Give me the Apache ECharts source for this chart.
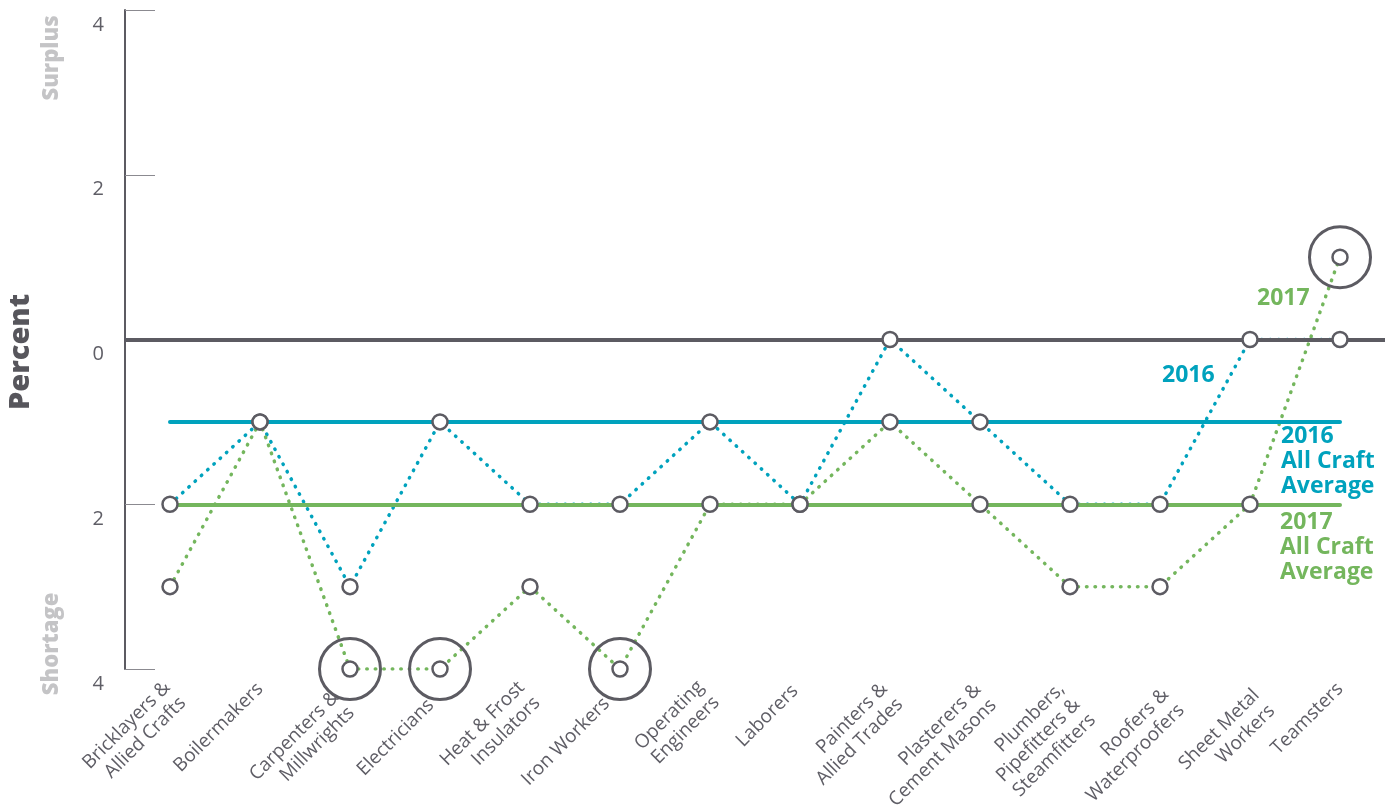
<!DOCTYPE html>
<html>
<head>
<meta charset="utf-8">
<script src="https://cdn.jsdelivr.net/npm/echarts@6/dist/echarts.min.js"></script>
<style>
  html, body { margin: 0; padding: 0; background: #ffffff; }
  #chart { width: 1395px; height: 806px; }
</style>
</head>
<body>
<div id="chart"></div>
<script>
// Craft categories (line breaks are part of the axis labels)
const categories = [
  'Bricklayers &\nAllied Crafts', 'Boilermakers', 'Carpenters &\nMillwrights', 'Electricians',
  'Heat & Frost\nInsulators', 'Iron Workers', 'Operating\nEngineers', 'Laborers',
  'Painters &\nAllied Trades', 'Plasterers &\nCement Masons', 'Plumbers,\nPipefitters &\nSteamfitters',
  'Roofers &\nWaterproofers', 'Sheet Metal\nWorkers', 'Teamsters'
];

// Surplus (+) / shortage (-) in percent
const values2016 = [-2, -1, -3, -1, -2, -2, -1, -2, 0, -1, -2, -2, 0, 0];
const values2017 = [-3, -1, -4, -4, -3, -4, -2, -2, -1, -2, -3, -3, -2, 1];

const average2016 = -1;
const average2017 = -2;

// Crafts called out with a ring (2017 values)
const highlighted = ['Carpenters &\nMillwrights', 'Electricians', 'Iron Workers', 'Teamsters'];

const yTickValues = [-4, -2, 0, 2, 4];
const yTickLabels = ['4', '2', '0', '2', '4'];

const TEAL = '#00a2bd';
const GREEN = '#74b65d';
const DARK = '#5c5b62';
const LABEL = '#5f5e66';
const LABEL_LINE_HEIGHT = 22;

// Hand-placed nudges for the slanted craft labels, in the label's rotated frame:
// [shift across the text (down), shift back along the text]. Keeps them clear
// of the callout rings.
const labelNudge = {
  'Bricklayers &\nAllied Crafts': [8, 1],
  'Carpenters &\nMillwrights': [7, 16],
  'Electricians': [5, 18],
  'Heat & Frost\nInsulators': [4, 5],
  'Iron Workers': [1, 20],
  'Operating\nEngineers': [3, 5],
  'Laborers': [-2, 5],
  'Painters &\nAllied Trades': [7, 4],
  'Plasterers &\nCement Masons': [10, 2],
  'Plumbers,\nPipefitters &\nSteamfitters': [16, 6],
  'Roofers &\nWaterproofers': [19, 0],
  'Sheet Metal\nWorkers': [20, 0]
};

// Top-anchored text block, offset so its centre lands where the nudge says
const axisCategories = categories.map((name) => {
  const n = labelNudge[name];
  if (!n) return name;
  const lines = name.split('\n').length;
  const top = n[0] - (LABEL_LINE_HEIGHT * lines) / 2;
  return { value: name, textStyle: { verticalAlign: 'top', padding: [top, n[1], 0, 0] } };
});

const chart = echarts.init(document.getElementById('chart'), null, { renderer: 'canvas' });

const dotted = (color) => ({
  color: color, width: 3.5, type: [0.5, 8], cap: 'round'
});

const markerSeries = (name, values, z) => ({
  name: name + ' markers',
  type: 'scatter',
  z: z,
  symbol: 'circle',
  symbolSize: 15,
  silent: true,
  itemStyle: { color: '#ffffff', borderColor: DARK, borderWidth: 2.5, opacity: 1 },
  data: values.map((v, i) => [i, v])
});

const option = {
  animation: false,
  backgroundColor: '#ffffff',
  grid: { left: 125, right: 10, top: 10, bottom: 137, containLabel: false, outerBoundsMode: 'none' },
  xAxis: {
    type: 'category',
    data: axisCategories,
    boundaryGap: true,
    axisLine: { show: false },
    axisTick: { show: false },
    axisLabel: {
      rotate: 45,
      interval: 0,
      margin: 17,
      fontFamily: 'Open Sans',
      fontSize: 19,
      lineHeight: LABEL_LINE_HEIGHT,
      color: LABEL
    }
  },
  yAxis: {
    type: 'value',
    min: -4,
    max: 4,
    interval: 2,
    splitLine: { show: false },
    axisLine: { show: true, lineStyle: { color: DARK, width: 2 } },
    axisTick: { show: true, inside: true, length: 30, lineStyle: { color: '#8b8a90', width: 1 } },
    axisLabel: {
      margin: 21,
      fontFamily: 'Open Sans',
      fontSize: 20,
      color: LABEL,
      verticalAlign: 'top',
      lineHeight: 30,
      formatter: (v) => {
        const i = yTickValues.indexOf(v);
        return i >= 0 ? yTickLabels[i] : '';
      }
    }
  },
  series: [
    {
      name: 'reference lines',
      type: 'line',
      z: 1,
      data: [],
      markLine: {
        silent: true,
        symbol: 'none',
        label: { show: false },
        data: [
          { yAxis: 0, lineStyle: { color: DARK, width: 4, type: 'solid' } },
          [
            { coord: [0, average2016], lineStyle: { color: TEAL, width: 4, type: 'solid', cap: 'round' } },
            { coord: [categories.length - 1, average2016] }
          ],
          [
            { coord: [0, average2017], lineStyle: { color: GREEN, width: 4, type: 'solid', cap: 'round' } },
            { coord: [categories.length - 1, average2017] }
          ]
        ]
      }
    },
    {
      name: '2016',
      type: 'line',
      z: 3,
      showSymbol: false,
      silent: true,
      lineStyle: dotted(TEAL),
      data: values2016
    },
    {
      name: '2017',
      type: 'line',
      z: 4,
      showSymbol: false,
      silent: true,
      lineStyle: dotted(GREEN),
      data: values2017
    },
    markerSeries('2016', values2016, 5),
    markerSeries('2017', values2017, 6),
    {
      name: 'callouts',
      type: 'scatter',
      z: 7,
      symbol: 'circle',
      symbolSize: 61,
      silent: true,
      itemStyle: { color: 'rgba(0,0,0,0)', borderColor: DARK, borderWidth: 3, opacity: 1 },
      data: highlighted.map((c) => {
        const i = categories.indexOf(c);
        return [i, values2017[i]];
      })
    }
  ],
  graphic: [
    {
      type: 'text', x: 21, y: 352, rotation: Math.PI / 2,
      style: { text: 'Percent', fill: '#57565c', font: '900 29px "Open Sans"', textAlign: 'center', textVerticalAlign: 'middle' }
    },
    {
      type: 'text', x: 52, y: 58, rotation: Math.PI / 2,
      style: { text: 'Surplus', fill: '#c4c4c6', font: '800 22px "Open Sans"', textAlign: 'center', textVerticalAlign: 'middle' }
    },
    {
      type: 'text', x: 52, y: 644, rotation: Math.PI / 2,
      style: { text: 'Shortage', fill: '#c4c4c6', font: '800 22px "Open Sans"', textAlign: 'center', textVerticalAlign: 'middle' }
    },
    {
      type: 'text', x: 1162, y: 375,
      style: { text: '2016', fill: TEAL, font: 'bold 23px "Open Sans"', textAlign: 'left', textVerticalAlign: 'middle' }
    },
    {
      type: 'text', x: 1257, y: 298,
      style: { text: '2017', fill: GREEN, font: 'bold 23px "Open Sans"', textAlign: 'left', textVerticalAlign: 'middle' }
    },
    {
      type: 'text', x: 1281, y: 424,
      style: { text: '2016\nAll Craft\nAverage', fill: TEAL, font: 'bold 23px "Open Sans"', lineHeight: 25, textAlign: 'left', textVerticalAlign: 'top' }
    },
    {
      type: 'text', x: 1280, y: 510,
      style: { text: '2017\nAll Craft\nAverage', fill: GREEN, font: 'bold 23px "Open Sans"', lineHeight: 25, textAlign: 'left', textVerticalAlign: 'top' }
    }
  ]
};

chart.setOption(option);
</script>
</body>
</html>
